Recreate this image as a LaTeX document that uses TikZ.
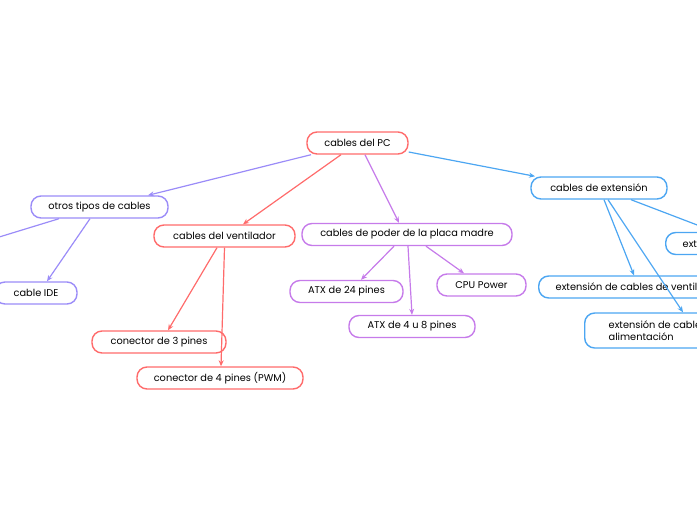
\documentclass[tikz,border=0pt]{standalone}
\usepackage{fontspec}
\setmainfont{Poppins}
\usetikzlibrary{arrows.meta}

\definecolor{rojo}{HTML}{FF6B6B}
\definecolor{lila}{HTML}{9B8CF8}
\definecolor{morado}{HTML}{C67BEA}
\definecolor{azul}{HTML}{4CA6F2}

\begin{document}
\begin{tikzpicture}[x=1pt,y=-1pt,
    tema/.style={draw, rounded corners=10pt, line width=1.4pt, fill=white,
        minimum height=22pt, inner ysep=2pt, font=\fontsize{9.8}{12}\selectfont},
    rama/.style={line width=1.2pt, -{Stealth[length=6pt,width=5pt]}}]

\useasboundingbox (0,0) rectangle (697,520);
\clip (0,0) rectangle (697,520);

% centro
\node[tema, draw=rojo, minimum width=101pt] (pc) at (357.5,143) {cables del PC};

% otros tipos de cables
\node[tema, draw=lila, minimum width=137pt] (otros) at (99.5,207) {otros tipos de cables};
\node[tema, draw=lila, minimum width=82pt] (ide) at (36,293) {cable IDE};
\coordinate (fuera) at (-40,249);

% cables del ventilador
\node[tema, draw=rojo, minimum width=141pt] (vent) at (224.5,236) {cables del ventilador};
\node[tema, draw=rojo, minimum width=134pt] (tres) at (159,342) {conector de 3 pines};
\node[tema, draw=rojo, minimum width=166pt] (cuatro) at (220,378) {conector de 4 pines (PWM)};

% cables de poder de la placa madre
\node[tema, draw=morado, minimum width=210pt] (placa) at (407,234.5) {cables de poder de la placa madre};
\node[tema, draw=morado, minimum width=113pt] (atxA) at (346.5,291.5) {ATX de 24 pines};
\node[tema, draw=morado, minimum width=89pt] (cpu) at (481.5,285) {CPU Power};
\node[tema, draw=morado, minimum width=126pt] (atxB) at (412,326.5) {ATX de 4 u 8 pines};

% cables de extension
\node[tema, draw=azul, minimum width=136pt] (ext) at (599,188) {cables de extensión};
\node[tema, draw=azul, anchor=west, inner xsep=17pt] (extfan) at (538,287) {extensión de cables de ventilador};
\node[tema, draw=azul, anchor=west, inner xsep=17pt] (extotro) at (665,243.5) {extensión de cables USB};
\node[tema, draw=azul, anchor=west, inner xsep=24pt, minimum height=35pt, align=left] (extalim) at (584,330.5) {extensión de cables de\\alimentación};

% ramas
\draw[rama, lila] ([xshift=-46.5pt]pc.south) -- ([xshift=48.5pt]otros.north);
\draw[rama, rojo] ([xshift=-16.5pt]pc.south) -- ([xshift=18.5pt]vent.north);
\draw[rama, morado] ([xshift=7.5pt]pc.south) -- ([xshift=-8pt]placa.north);
\draw[rama, azul] ([yshift=-9pt]pc.east) -- ([xshift=-64pt]ext.north);

\draw[rama, lila] ([xshift=-9.5pt]otros.south) -- ([xshift=11pt]ide.north);
\draw[rama, lila] ([xshift=-40.5pt]otros.south) -- (fuera);

\draw[rama, rojo] ([xshift=-7.5pt]vent.south) -- ([xshift=9pt]tres.north);
\draw[rama, rojo] (vent.south) -- ([xshift=1pt]cuatro.north);

\draw[rama, morado] ([xshift=-13pt]placa.south) -- ([xshift=14.5pt]atxA.north);
\draw[rama, morado] ([xshift=1pt]placa.south) -- (atxB.north);
\draw[rama, morado] ([xshift=19pt]placa.south) -- ([xshift=-17.5pt]cpu.north);

\draw[rama, azul] ([xshift=5pt]ext.south) -- ([xshift=96pt]extfan.north west);
\draw[rama, azul] ([xshift=9pt]ext.south) -- ([xshift=99pt]extalim.north west);
\draw[rama, azul] ([xshift=32pt]ext.south) -- ([xshift=50pt]extotro.north west);

\end{tikzpicture}
\end{document}
